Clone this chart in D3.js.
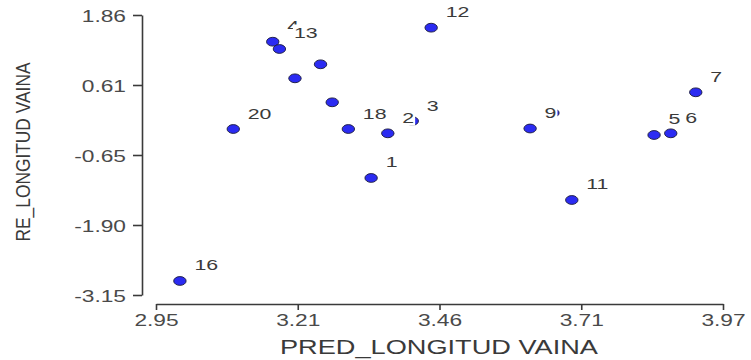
<!DOCTYPE html>
<html>
<head>
<meta charset="utf-8">
<script src="https://cdn.jsdelivr.net/npm/d3@7"></script>
<style>
  body { margin: 0; background: #fff; }
  svg { display: block; font-family: "Liberation Sans", Arial, sans-serif; }
</style>
</head>
<body>
<svg id="plotCanvas" width="751" height="360"></svg>
<script>
// residuos vs predichos, LONGITUD VAINA
var pointLabels = ["1","2","3","4","5","6","7","9","11","12","13","16","18","20","","","",""]
var predValues  = [3.337,3.367,3.411,3.160,3.846,3.876,3.921,3.623,3.698,3.445,3.172,2.993,3.296,3.089,3.246,3.200,3.267,3.664]
var resValues   = [-1.056,-0.257,-0.037,1.382,-0.287,-0.257,0.477,-0.171,-1.450,1.633,1.252,-2.899,-0.180,-0.180,0.978,0.727,0.298,0.107]

var xTicks = [2.95, 3.205, 3.46, 3.715, 3.97]
var xTickLabels = ["2.95","3.21","3.46","3.71","3.97"]
var yTicks = [1.86, 0.6075, -0.645, -1.8975, -3.15]
var yTickLabels = ["1.86","0.61","-0.65","-1.90","-3.15"]

var data = pointLabels.map(function(l, i){ return {label: l, x: predValues[i], y: resValues[i]} })

var svg = d3.select("#plotCanvas")
var stretchX = 1.42

// widen text horizontally like the source image
function stretch(sel, k){
    sel.each(function(){
        var w = this.getComputedTextLength()
        d3.select(this).attr("textLength", w * k).attr("lengthAdjust", "spacingAndGlyphs")
    })
}

var xScale = d3.scaleLinear().domain([2.95, 3.97]).range([156, 723])
var yScale = d3.scaleLinear().domain([-3.15, 1.86]).range([295, 15])

// Y axis
var gy = svg.append("g").attr("transform", "translate(142,0)")
    .call(d3.axisLeft(yScale).tickValues(yTicks)
        .tickFormat(function(d, i){ return yTickLabels[i] })
        .tickSize(9).tickSizeOuter(0).tickPadding(7))
// X axis
var gx = svg.append("g").attr("transform", "translate(0,304)")
    .call(d3.axisBottom(xScale).tickValues(xTicks)
        .tickFormat(function(d, i){ return xTickLabels[i] })
        .tickSize(6).tickSizeOuter(0).tickPadding(5))

svg.selectAll(".domain, .tick line").attr("stroke", "#3a3a3a").attr("stroke-width", 1.6)
svg.selectAll(".tick text")
    .attr("font-family", "Liberation Sans, Arial, sans-serif")
    .attr("font-size", 16).attr("fill", "#4a4a4a")
gy.selectAll(".tick text").attr("dy", "0.38em")
stretch(svg.selectAll(".tick text"), stretchX)

// Axis titles
svg.append("text")
    .attr("x", 439).attr("y", 354)
    .attr("text-anchor", "middle")
    .attr("font-size", 19.5).attr("fill", "#3a3a3a")
    .attr("textLength", 318).attr("lengthAdjust", "spacingAndGlyphs")
    .text("PRED_LONGITUD VAINA")

svg.append("text")
    .attr("transform", "translate(30,152) rotate(-90)")
    .attr("text-anchor", "middle")
    .attr("font-size", 20).attr("fill", "#3a3a3a")
    .attr("textLength", 179).attr("lengthAdjust", "spacingAndGlyphs")
    .text("RE_LONGITUD VAINA")

// Add dots
svg.append("g").selectAll("ellipse")
    .data(data)
    .enter().append("ellipse")
    .attr("cx", function(d){ return xScale(d.x) })
    .attr("cy", function(d){ return yScale(d.y) })
    .attr("rx", 6.2).attr("ry", 4.4)
    .attr("fill", "#2b2bf2")
    .attr("stroke", "#1b1b3a").attr("stroke-width", 0.9)

// point labels with white box, drawn on top
var lab = svg.append("g").selectAll("g")
    .data(data.filter(function(d){ return d.label !== "" }))
    .enter().append("g")
    .attr("transform", function(d){ return "translate(" + (xScale(d.x) + 14.5) + "," + (yScale(d.y) - 10.5) + ")" })

lab.append("rect")
lab.append("text")
    .attr("font-size", 15).attr("fill", "#3a3a3a")
    .text(function(d){ return d.label })
stretch(lab.selectAll("text"), stretchX)
lab.each(function(){
    var b = d3.select(this).select("text").node().getBBox()
    d3.select(this).select("rect")
        .attr("x", b.x - 1).attr("y", b.y)
        .attr("width", b.width + 2).attr("height", b.height)
        .attr("fill", "#fff")
})
</script>
</body>
</html>
